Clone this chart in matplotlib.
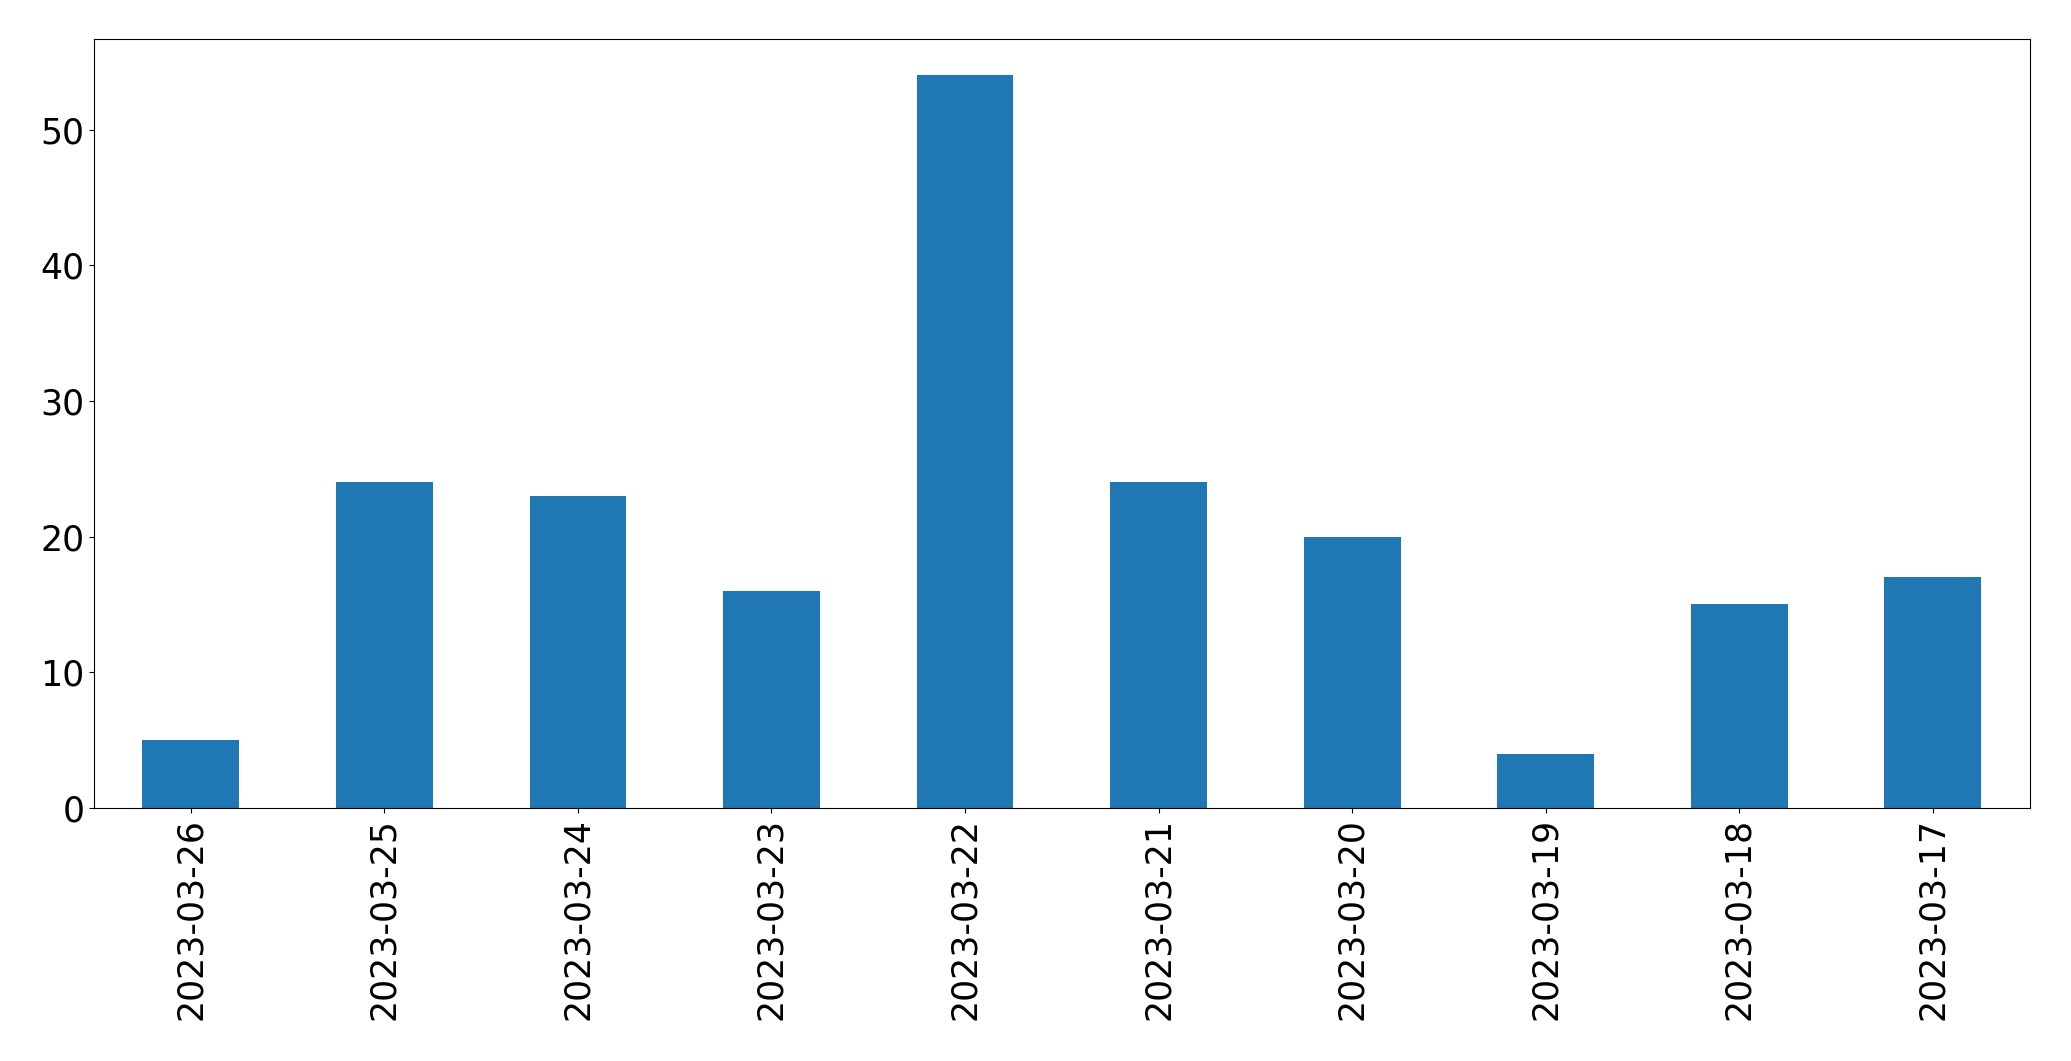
# Import Libraries
import matplotlib
matplotlib.use('Agg')
import matplotlib.pyplot as plt

# Data
dates = ['2023-03-26', '2023-03-25', '2023-03-24', '2023-03-23', '2023-03-22',
         '2023-03-21', '2023-03-20', '2023-03-19', '2023-03-18', '2023-03-17']
counts = [5, 24, 23, 16, 54, 24, 20, 4, 15, 17]

# Plot
fig, ax = plt.subplots(figsize=(20.71, 10.61), dpi=100)
x = list(range(len(dates)))
ax.bar(x, counts, width=0.5, color='#1f77b4')
ax.set_xticks(x)
ax.set_xticklabels(dates, rotation=90)
ax.set_xlim(-0.5, len(dates) - 0.5)
ax.set_ylim(0, max(counts) * 1.05)
ax.tick_params(labelsize=25)
plt.subplots_adjust(left=0.0454, right=0.980, top=0.9635, bottom=0.2385)
plt.savefig('out.png')
